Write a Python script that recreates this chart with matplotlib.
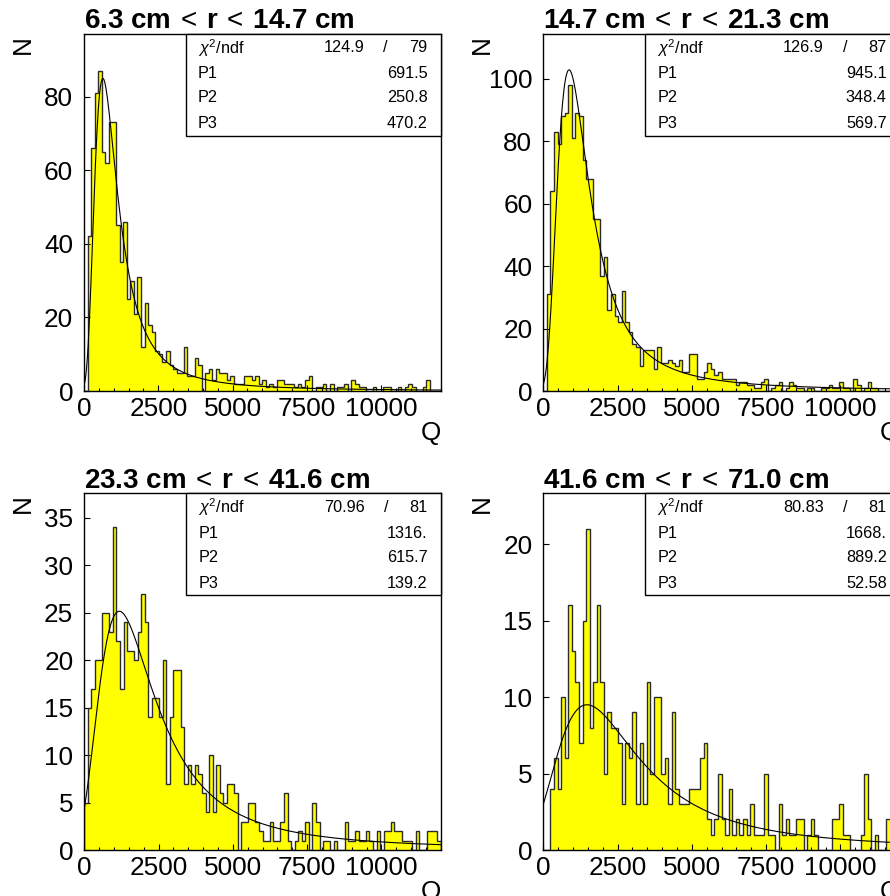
import numpy as np
import matplotlib
matplotlib.use('Agg')
import matplotlib.pyplot as plt
from matplotlib.patches import Rectangle
from matplotlib.ticker import MultipleLocator

plt.rcParams['font.family'] = ['Liberation Sans', 'DejaVu Sans']
plt.rcParams['mathtext.fontset'] = 'custom'
plt.rcParams['mathtext.rm'] = 'Liberation Sans'
plt.rcParams['mathtext.it'] = 'Liberation Sans:italic'
plt.rcParams['mathtext.bf'] = 'Liberation Sans:bold'

# charge spectra in four radial slices, 100 bins of 120 between 0 and 12000
q_edges = np.linspace(0, 12000, 101)

titles = [r'6.3 cm$\:<\:$r$\:<\:$14.7 cm', r'14.7 cm$\:<\:$r$\:<\:$21.3 cm',
          r'23.3 cm$\:<\:$r$\:<\:$41.6 cm', r'41.6 cm$\:<\:$r$\:<\:$71.0 cm']

counts_1 = [0, 42, 66, 81, 87, 65, 62, 73, 73, 45,
            35, 46, 25, 30, 21, 31, 12, 24, 18, 16,
            11, 10, 8, 11, 7, 6, 5, 5, 12, 4,
            4, 9, 7, 0, 5, 6, 3, 6, 5, 5,
            3, 4, 2, 2, 2, 4, 4, 3, 4, 2,
            3, 1, 2, 1, 3, 3, 2, 2, 2, 1,
            2, 1, 3, 4, 0, 1, 1, 2, 0, 2,
            0, 1, 1, 2, 0, 3, 2, 1, 1, 0,
            0, 1, 0, 0, 1, 1, 0, 0, 1, 0,
            1, 2, 1, 0, 0, 1, 3, 0, 0, 0]

counts_2 = [0, 31, 64, 83, 79, 88, 89, 98, 81, 89,
            88, 74, 68, 68, 55, 55, 37, 43, 26, 31,
            24, 22, 32, 22, 19, 15, 14, 8, 13, 13,
            13, 7, 14, 9, 9, 10, 9, 8, 10, 6,
            6, 12, 12, 4, 4, 6, 9, 7, 5, 6,
            4, 4, 4, 4, 2, 3, 3, 2, 2, 1,
            1, 3, 4, 0, 1, 2, 3, 0, 1, 3,
            2, 1, 1, 0, 1, 1, 0, 0, 1, 1,
            2, 1, 1, 3, 1, 1, 0, 4, 2, 0,
            1, 3, 1, 1, 0, 0, 0, 0, 1, 0]

counts_3 = [5, 15, 17, 20, 20, 25, 25, 23, 34, 22,
            17, 24, 21, 21, 20, 23, 27, 24, 14, 16,
            16, 14, 20, 7, 14, 19, 19, 13, 7, 9,
            7, 9, 8, 6, 4, 10, 4, 9, 6, 5,
            7, 7, 6, 0, 3, 3, 5, 5, 3, 2,
            1, 1, 3, 1, 1, 3, 6, 1, 0, 1,
            2, 1, 3, 0, 5, 3, 0, 1, 1, 0,
            1, 0, 0, 3, 1, 1, 2, 1, 1, 2,
            1, 0, 2, 0, 2, 2, 3, 2, 2, 1,
            1, 1, 0, 2, 0, 0, 2, 2, 2, 1]

counts_4 = [0, 0, 4, 6, 4, 10, 6, 16, 13, 11,
            7, 15, 21, 8, 11, 16, 11, 5, 9, 8,
            8, 7, 3, 7, 6, 9, 3, 7, 3, 11,
            5, 10, 10, 5, 6, 3, 9, 4, 3, 3,
            3, 4, 4, 4, 6, 7, 2, 1, 2, 5,
            2, 1, 4, 1, 2, 1, 2, 1, 3, 1,
            1, 1, 5, 1, 1, 0, 3, 1, 2, 1,
            1, 2, 2, 0, 1, 2, 1, 0, 0, 0,
            0, 2, 2, 3, 1, 1, 0, 0, 0, 1,
            5, 2, 0, 1, 0, 0, 2, 2, 0, 0]

# landau fit results: P1 = mpv, P2 = sigma, P3 = constant
fit_p1 = [691.5, 945.1, 1316.0, 1668.0]
fit_p2 = [250.8, 348.4, 615.7, 889.2]
fit_p3 = [470.2, 569.7, 139.2, 52.58]
fit_chi2 = ['124.9', '126.9', '70.96', '80.83']
fit_ndf = ['79', '87', '81', '81']

y_max = [97, 114.4, 37.6, 23.35]
y_step = [20, 20, 5, 5]


def landau(lam):
    # standard landau density, integral representation
    u = np.linspace(-12.0, 4.2, 12000)
    t = np.exp(u)
    lam = np.asarray(lam)[:, None]
    f = np.exp(-t * np.log(t) - lam * t) * np.sin(np.pi * t) * t
    return np.trapezoid(f, u, axis=1) / np.pi


def root_fmt(v):
    s = f'{v:.4g}'
    if '.' not in s:
        s += '.'
    return s


W, H = 890, 896
fig = plt.figure(figsize=(W / 100, H / 100), dpi=100)

pads = [(84, 34), (543.3, 34), (84.3, 493), (543.3, 493)]
aw, ah = 356.5, 357
all_counts = [counts_1, counts_2, counts_3, counts_4]
q_fine = np.linspace(0, 12000, 500)

for i, (x0, y0) in enumerate(pads):
    ax = fig.add_axes([x0 / W, 1 - (y0 + ah) / H, aw / W, ah / H])
    cnt = np.array(all_counts[i], dtype=float)
    ax.stairs(cnt, q_edges, fill=True, color='#ffff00', zorder=1)
    ax.stairs(cnt, q_edges, color='#2b2b2b', lw=1.0, zorder=2)
    fit = fit_p3[i] * landau((q_fine - fit_p1[i]) / fit_p2[i])
    ax.plot(q_fine, fit, color='black', lw=0.8, zorder=3)

    ax.set_xlim(0, 12000)
    ax.set_ylim(0, y_max[i])
    ax.set_xticks([0, 2500, 5000, 7500, 10000])
    ax.xaxis.set_minor_locator(MultipleLocator(500))
    ax.set_yticks(np.arange(0, y_max[i], y_step[i]))
    ax.tick_params(which='both', direction='in', top=False, right=False,
                   labelsize=18.8, width=0.8)
    ax.tick_params(which='major', length=4.3)
    ax.tick_params(which='minor', length=2.2)
    ax.tick_params(axis='x', pad=4.3)
    ax.tick_params(axis='y', pad=7.9)
    for sp in ax.spines.values():
        sp.set_linewidth(1.0)

    # stats box
    bx = 102 / aw
    by = 1 - 102 / ah
    ax.add_patch(Rectangle((bx, by), 1 - bx, 102 / ah, transform=ax.transAxes,
                           facecolor='white', edgecolor='black', lw=1.0,
                           zorder=5, clip_on=False))
    rows = [14, 40, 64, 90]
    xl = 114 / aw
    xr = 1 - 13 / aw
    ty = lambda p: 1 - p / ah
    fs = 11.7
    ax.text(xl, ty(rows[0]), r'$\chi^2$/ndf', transform=ax.transAxes,
            fontsize=fs, va='center', ha='left', zorder=6)
    ax.text(1 - 76 / aw, ty(rows[0]), fit_chi2[i], transform=ax.transAxes,
            fontsize=fs, va='center', ha='right', zorder=6)
    ax.text(1 - 55 / aw, ty(rows[0]), '/', transform=ax.transAxes,
            fontsize=fs, va='center', ha='center', zorder=6)
    ax.text(xr, ty(rows[0]), fit_ndf[i], transform=ax.transAxes,
            fontsize=fs, va='center', ha='right', zorder=6)
    pvals = [fit_p1[i], fit_p2[i], fit_p3[i]]
    for j in range(3):
        ax.text(xl, ty(rows[j + 1]), f'P{j + 1}', transform=ax.transAxes,
                fontsize=fs, va='center', ha='left', zorder=6)
        ax.text(xr, ty(rows[j + 1]), root_fmt(pvals[j]), transform=ax.transAxes,
                fontsize=fs, va='center', ha='right', zorder=6)

    fig.text(x0 / W, 1 - (y0 - 5.5) / H, titles[i], fontsize=20,
             fontweight='bold', va='baseline', ha='left')
    fig.text((x0 - 61) / W, 1 - (y0 + 1) / H, 'N', rotation=90,
             ha='center', va='top', fontsize=18.8)
    fig.text((x0 + aw) / W, 1 - (y0 + ah + 30) / H, 'Q',
             ha='right', va='top', fontsize=18.8)

fig.savefig('out.png', dpi=100)
